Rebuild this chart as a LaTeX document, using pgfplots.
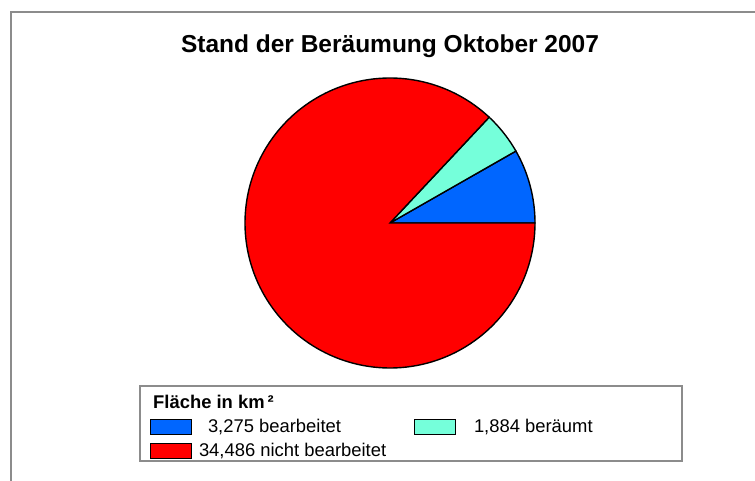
\documentclass[border=0pt]{standalone}
\usepackage{fontspec}
\setmainfont{Liberation Sans}
\usepackage{pgfplots}
\usepackage{pgfplotstable}
\pgfplotsset{compat=1.18}
\definecolor{pieblue}{RGB}{0,102,255}
\definecolor{piecyan}{RGB}{117,255,218}
\definecolor{piered}{RGB}{255,0,0}
\definecolor{framegray}{RGB}{140,140,140}

\pgfplotstableread{
label value
bearbeitet 3275
beraeumt 1884
nichtbearbeitet 34486
}\datatable

\pgfplotstablegetelem{0}{value}\of\datatable \let\va\pgfplotsretval
\pgfplotstablegetelem{1}{value}\of\datatable \let\vb\pgfplotsretval
\pgfplotstablegetelem{2}{value}\of\datatable \let\vc\pgfplotsretval
\edef\angA{\fpeval{round(\va/(\va+\vb+\vc)*360,4)}}
\edef\angB{\fpeval{round((\va+\vb)/(\va+\vb+\vc)*360,4)}}

\begin{document}
\begin{tikzpicture}
\path[use as bounding box] (0,0) rectangle (755pt,480pt);
\begin{axis}[
  scale only axis, width=755pt, height=480pt,
  xmin=-390, xmax=365, ymin=-257, ymax=223,
  hide axis, clip=true,
  legend columns=2,
  legend image code/.code={\draw[#1, line width=1pt] (0pt,-7.5pt) rectangle (41pt,7.5pt);},
  legend style={at={(axis cs:-240,-196)}, anchor=north west, draw=none, fill=none,
    inner sep=0pt, outer sep=0pt, row sep=8pt,
    nodes={inner sep=0pt, anchor=west},
    font=\fontsize{18.4}{20}\selectfont,
    /tikz/every odd column/.style={column sep=7pt}},
]
\addplot[fill=pieblue, draw=black, line width=1.4pt, domain=0:\angA, samples=40, data cs=polar] ({x},{145}) -- (axis cs:0,0) -- cycle;
\addlegendentry{\makebox[215pt][l]{\hspace{9pt}3,275 bearbeitet}}
\addplot[fill=piecyan, draw=black, line width=1.4pt, domain=\angA:\angB, samples=30, data cs=polar] ({x},{145}) -- (axis cs:0,0) -- cycle;
\addlegendentry{\hspace{11pt}1,884 beräumt}
\addplot[fill=piered, draw=black, line width=1.4pt, domain=\angB:360, samples=240, data cs=polar] ({x},{145}) -- (axis cs:0,0) -- cycle;
\addlegendentry{34,486 nicht bearbeitet}

\draw[framegray, line width=2pt] (axis cs:-379,-300) -- (axis cs:-379,211) -- (axis cs:400,211);
\draw[framegray, line width=2pt] (axis cs:-250,-163) rectangle (axis cs:292,-238);
\node[anchor=west, inner sep=0pt, font=\fontsize{18.4}{20}\selectfont\bfseries] at (axis cs:-237,-179) {Fläche in km\,²};
\node[anchor=base, inner sep=0pt, font=\fontsize{24.5}{28}\selectfont\bfseries] at (axis cs:0,170) {Stand der Beräumung Oktober 2007};
\end{axis}
\end{tikzpicture}
\end{document}
